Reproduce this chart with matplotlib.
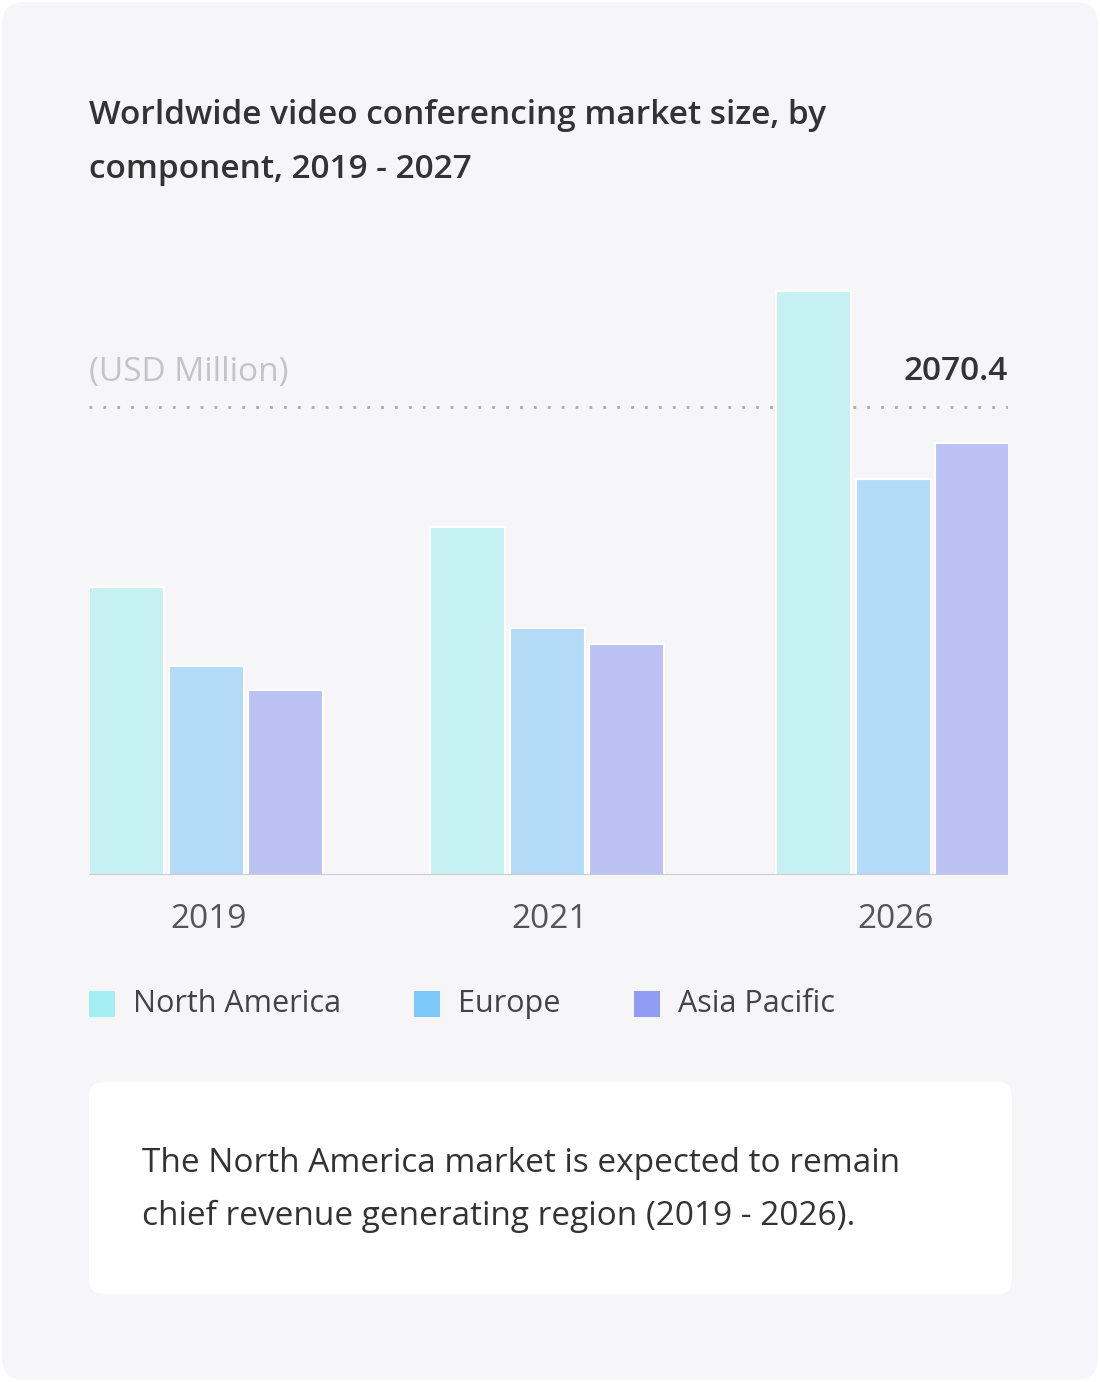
import matplotlib
matplotlib.use("Agg")
import matplotlib.pyplot as plt
from matplotlib.patches import FancyBboxPatch, Rectangle

years = ["2019", "2021", "2026"]
regions = ["North America", "Europe", "Asia Pacific"]
north_america = [1274, 1540, 2584]
europe = [925, 1093, 1752]
asia_pacific = [818, 1022, 1911]
ref_value = 2070.4

W, H = 1100, 1382
fig = plt.figure(figsize=(W / 100, H / 100), dpi=100)
fig.patch.set_facecolor("white")
plt.rcParams["font.family"] = ["Open Sans", "DejaVu Sans"]

# card background
bg = fig.add_axes([0, 0, 1, 1], zorder=-5)
bg.set_xlim(0, W)
bg.set_ylim(H, 0)
bg.axis("off")
bg.add_patch(FancyBboxPatch((2, 2), W - 4, H - 4, boxstyle="round,pad=0,rounding_size=22",
                            fc="#f6f6f8", ec="none"))
bg.add_patch(FancyBboxPatch((89, 1082), 923, 212, boxstyle="round,pad=0,rounding_size=14",
                            fc="white", ec="none"))

fig.text(89 / W, 1 - 116 / H, "Worldwide video conferencing market size, by", fontsize=24,
         color="#333333", va="center", weight="semibold")
fig.text(89 / W, 1 - 169 / H, "component, 2019 - 2027", fontsize=24,
         color="#333333", va="center", weight="semibold")
fig.text(142 / W, 1 - 1163 / H, "The North America market is expected to remain", fontsize=24,
         color="#333333", va="center")
fig.text(142 / W, 1 - 1216 / H, "chief revenue generating region (2019 - 2026).", fontsize=24,
         color="#333333", va="center")

# chart axes, mapped to pixel positions
scale = ref_value / 468.0
left, right, base, top = 89, 1008, 875, 250
ax = fig.add_axes([left / W, 1 - base / H, (right - left) / W, (base - top) / H])
ax.set_xlim(left, right)
ax.set_ylim(0, (base - top) * scale)
ax.axis("off")
ax.patch.set_alpha(0)

group_starts = [89, 430, 776]
bar_w, step = 75, 79.5
fills = ["#c5f1f3", "#b3dbf8", "#bcc1f4"]
keys = ["#a5eff4", "#7cc8f8", "#8f9cf2"]
series = [north_america, europe, asia_pacific]
for i, (vals, c) in enumerate(zip(series, fills)):
    xs = [g + i * step for g in group_starts]
    ax.bar(xs, vals, width=bar_w, align="edge", color=c, edgecolor="white", linewidth=1.5, zorder=2)

ax.axhline(0, color="#c8c8d0", lw=1.5, zorder=3)
ax.plot([left, right], [ref_value, ref_value], ls=(0, (1, 4)), color="#aaaaaa", lw=2, zorder=1)
ax.text(left, ref_value + 35 * scale, "(USD Million)", fontsize=24, color="#c4c4c4", va="center")
ax.text(right, ref_value + 35 * scale, f"{ref_value}", fontsize=24, color="#333333",
        va="center", ha="right", weight="semibold")

for g, y in zip(group_starts, years):
    fig.text((g + 1.5 * step) / W, 1 - 919 / H, y, fontsize=24, color="#555555", ha="center", va="center")

# legend
leg_x = [89, 414, 634]
for x, name, c in zip(leg_x, regions, keys):
    bg.add_patch(Rectangle((x, 991), 26, 26, fc=c, ec="none"))
    bg.text(x + 44, 1004, name, fontsize=22, color="#444444", va="center")

fig.savefig("out.png", dpi=100, facecolor="white")
